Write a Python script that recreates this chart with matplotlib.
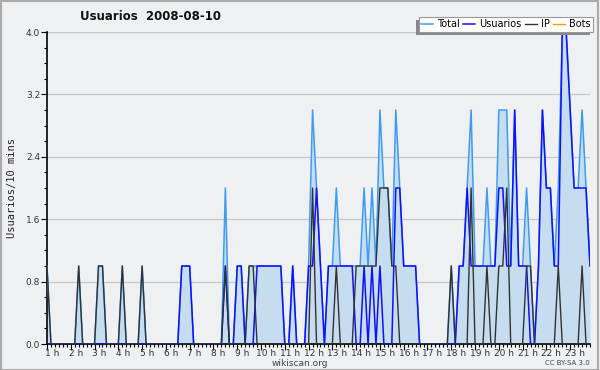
import matplotlib
matplotlib.use('Agg')
import matplotlib.pyplot as plt
import matplotlib.transforms as mtransforms
from matplotlib.patches import Rectangle
import numpy as np

# Users per 10 minutes, 2008-08-10
title = 'Usuarios  2008-08-10'
series_names = ['Total', 'Usuarios', 'IP', 'Bots']
hour_labels = ['{} h'.format(h) for h in range(1, 24)]

usuarios = [0] * 34 + [1, 1, 1] + [0] * 8 + [1, 0, 0, 1, 1, 0, 0, 0] + [1] * 7 + \
    [0, 0, 1, 0, 0, 0, 1, 1, 2, 1, 0] + [1] * 7 + [0, 0, 1, 0, 1, 0, 1, 0, 0, 0, 2, 2] + \
    [1, 1, 1, 1] + [0] * 10 + [1, 1, 2] + [1] * 7 + [2, 2, 1, 1, 3, 1, 1, 1, 0, 0, 1, 3,
    2, 2, 1, 1, 4, 4, 3, 2, 2, 2, 2, 1]

ip = [1, 0, 0, 0, 0, 0, 0, 0, 1, 0, 0, 0, 0, 1, 1, 0, 0, 0, 0, 1, 0, 0, 0, 0, 1] + \
    [0] * 20 + [1, 0, 0, 0, 0, 0, 1, 1] + [0] * 14 + [2] + [0] * 5 + [1] + [0] * 4 + \
    [1] * 6 + [2, 2, 2, 1, 1] + [0] * 13 + [1] + [0] * 4 + [2, 0, 0, 0, 1, 0, 0, 1, 1,
    2, 0, 0, 0, 0, 1, 1, 0, 0, 0, 0, 0, 0, 1, 0, 0, 0, 0, 0, 1, 0, 0]

bots = [0] * len(usuarios)

usuarios = np.array(usuarios)
ip = np.array(ip)
bots = np.array(bots)
total = usuarios + ip + bots
x = np.arange(len(total))

bg = '#eff0f1'
fig = plt.figure(figsize=(6, 3.7), dpi=100, facecolor=bg)
ax = fig.add_axes([47 / 600, 26 / 370, 543 / 600, 312 / 370])
ax.set_facecolor(bg)

ax.fill_between(x, total, 0, color='#c6ddf0', linewidth=0, zorder=1)
ax.plot(x, total, color='#3c9cf4', lw=1.1, label=series_names[0], zorder=3)
ax.plot(x, usuarios, color='#1010ff', lw=1.1, label=series_names[1], zorder=4)
ax.plot(x, ip, color='#333333', lw=1.0, label=series_names[2], zorder=5)
ax.plot(x, bots, color='#ff9900', lw=1.0, label=series_names[3], zorder=2)

ax.set_xlim(0, len(total) - 1)
ax.set_ylim(0, 4.0)
ax.set_yticks([0.0, 0.8, 1.6, 2.4, 3.2, 4.0])
ax.set_yticklabels(['0.0', '0.8', '1.6', '2.4', '3.2', '4.0'])
ax.set_yticks(np.arange(0, 4.01, 0.2), minor=True)
ax.grid(axis='y', color='#c8c8c8', lw=0.9, zorder=0)
ax.set_axisbelow(True)

ax.set_xticks(np.arange(0, 6 * 23, 6))
ax.set_xticklabels(hour_labels)
ax.set_xticks(x, minor=True)
ax.tick_params(axis='both', which='major', length=4, width=0.8, labelsize=6.5,
               labelcolor='#333333', pad=0)
ax.tick_params(axis='y', which='major', pad=1)
ax.tick_params(axis='both', which='minor', length=2.5, width=0.8)
offset = mtransforms.ScaledTranslation(5 / 100, 1 / 100, fig.dpi_scale_trans)
for lab in ax.get_xticklabels():
    lab.set_transform(lab.get_transform() + offset)

for side in ['top', 'right']:
    ax.spines[side].set_visible(False)
for side in ['left', 'bottom']:
    ax.spines[side].set_linewidth(1.2)

ax.set_ylabel('Usuarios/10 mins', family='DejaVu Sans Mono', fontsize=7.5,
              color='#222222', labelpad=6)
fig.text(151 / 600, 1 - 16 / 370, title, ha='center', va='center',
         fontsize=8.5, fontweight='bold', color='#111111')

leg = ax.legend(loc='upper right', bbox_to_anchor=(1.0055, 1.048), ncol=4,
                fontsize=7, frameon=True, fancybox=False, shadow=False,
                framealpha=1, handlelength=1.2, handletextpad=0.4,
                columnspacing=0.4, borderpad=0.25, borderaxespad=0)
leg.get_frame().set_edgecolor('#999999')
leg.get_frame().set_linewidth(0.8)
leg.set_zorder(10)
fig.canvas.draw()
bb = leg.get_window_extent().transformed(fig.transFigure.inverted())
ax.add_patch(Rectangle((bb.x0 - 3 / 600, bb.y0 - 3 / 370), bb.width, bb.height,
                       transform=fig.transFigure, facecolor='#888888',
                       edgecolor='none', zorder=9, clip_on=False))

fig.text(0.5, 1 - 363 / 370, 'wikiscan.org', ha='center', va='center',
         fontsize=6.5, color='#444444')
fig.text(590 / 600, 1 - 363 / 370, 'CC BY-SA 3.0', ha='right', va='center',
         fontsize=5, color='#444444')
fig.patches.append(Rectangle((0.001, 0.001), 0.996, 0.996, transform=fig.transFigure,
                             facecolor='none', edgecolor='#aaaaaa', lw=1.5))

fig.savefig('out.png', dpi=100, facecolor=bg)
